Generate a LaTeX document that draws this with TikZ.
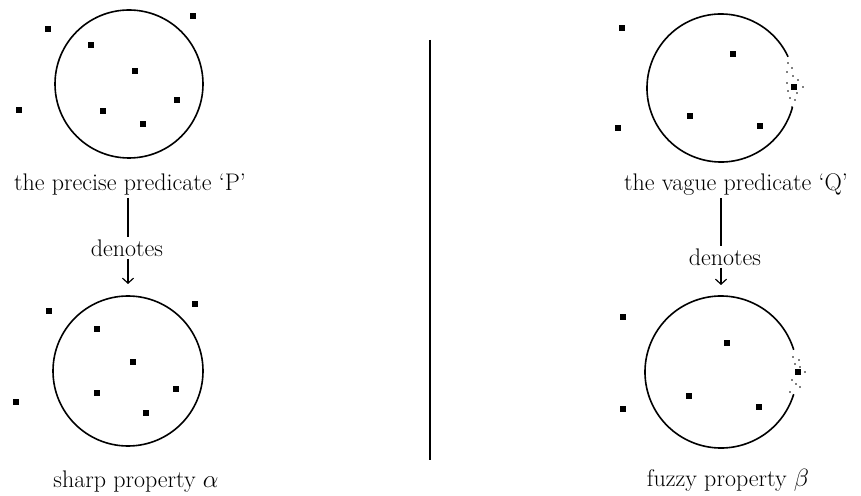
\documentclass[tikz,border=0pt]{standalone}
\usetikzlibrary{arrows.meta, positioning}
\tikzset{
  setRing/.style={circle, draw, line width=1.6pt, minimum size=#1, inner sep=0pt, outer sep=0pt},
  setGap/.style={circle, minimum size=#1, inner sep=0pt, outer sep=0pt},
  elem/.style={rectangle, fill=black, minimum size=6.5pt, inner sep=0pt},
  speck/.style={circle, fill=black, minimum size=1.8pt, inner sep=0pt},
  labelT/.style={font=\fontsize{24}{28}\selectfont, inner sep=2pt},
  arrowD/.style={-{Straight Barb[length=5pt, width=11pt]}, line width=1.2pt},
  stem/.style={line width=1.2pt},
}
\begin{document}
\begin{tikzpicture}[x=1pt, y=1pt]
    \useasboundingbox (0,0) rectangle (861,495);
    % precise predicate and its sharp property
    \node[setRing=148pt] (setPa) at (129,411) {};
    \foreach \x/\y [count=\i] in {48/466,193/479,91/450,135/424,177/395,19/385,103/384,143/371}
      \node[elem] (pa\i) at (\x,\y) {};
    \node[labelT] (labP) at (130,310) {the precise predicate `P'};
    \node[labelT] (denP) at (127,247) {denotes};
    \node[setRing=150pt] (setPb) at (128,124) {};
    \foreach \x/\y [count=\i] in {49/184,195/191,97/166,133/133,176/106,16/93,97/102,146/82}
      \node[elem] (pb\i) at (\x,\y) {};
    \node[labelT] (labA) at (136,13) {sharp property $\alpha$};
    \draw[stem] (labP.south -| setPb) -- (denP.north -| setPb);
    \draw[arrowD, shorten >=12pt] (denP.south -| setPb) -- (setPb);
    % divider
    \coordinate (divT) at (430,455);
    \coordinate (divB) at (430,35);
    \draw[stem] (divT) -- (divB);
    % vague predicate and its fuzzy property
    \node[setGap=148pt] (setQa) at (721,407) {};
    \draw[line width=1.6pt] (setQa.25) arc[start angle=25, end angle=345, radius=74pt];
    \foreach \x/\y [count=\i] in {622/467,733/441,794/408,690/379,618/367,760/369}
      \node[elem] (qa\i) at (\x,\y) {};
    \foreach \dx/\dy [count=\i] in {-6/24,-2/19,-7/15,-1/11,4/7,-7/4,9/0,-6/-4,3/-6,-4/-11,1/-13,-2/-20}
      \node[speck, xshift=\dx pt, yshift=\dy pt] (sa\i) at (qa3) {};
    \node[labelT] (labQ) at (736,310) {the vague predicate `Q'};
    \node[labelT] (denQ) at (725,238) {denotes};
    \node[setGap=152pt] (setQb) at (721,123) {};
    \draw[line width=1.6pt] (setQb.17) arc[start angle=17, end angle=343, radius=76pt];
    \foreach \x/\y [count=\i] in {623/178,727/152,798/123,689/99,623/86,759/88}
      \node[elem] (qb\i) at (\x,\y) {};
    \foreach \dx/\dy [count=\i] in {-5/15,1/12,-3/8,2/5,7/0,-6/-8,-2/-12,2/-15,-8/-20}
      \node[speck, xshift=\dx pt, yshift=\dy pt] (sb\i) at (qb3) {};
    \node[labelT] (labB) at (728,15) {fuzzy property $\beta$};
    \draw[stem] (labQ.south -| setQb) -- (denQ.north -| setQb);
    \draw[arrowD, shorten >=11pt] (denQ.south -| setQb) -- (setQb);
  \end{tikzpicture}
\end{document}
